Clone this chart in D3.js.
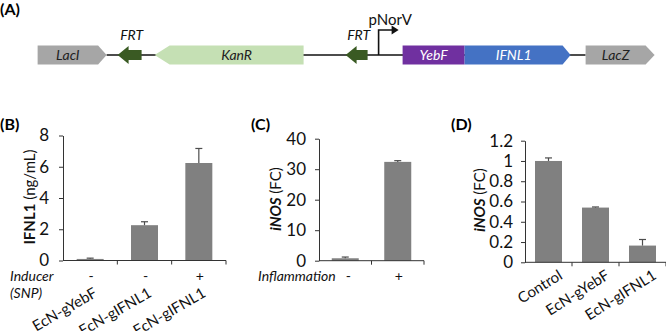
<!DOCTYPE html>
<html>
<head>
<meta charset="utf-8">
<script src="https://cdn.jsdelivr.net/npm/d3@7"></script>
<style>
  body { margin: 0; background: #fff; }
  svg { display: block; font-family: Lato, "Open Sans", sans-serif; }
</style>
</head>
<body>
<div id="chart"></div>
<script>
// ---- data ----
// (A) construct map, positions in map units
const partNames = ["LacI", "FRT", "KanR", "FRT", "YebF", "IFNL1", "LacZ"];
const partStart = [0, 80, 117, 308, 365, 427, 548];
const partEnd   = [69, 104, 266, 330, 427, 533, 617];
const partDir   = [1, -1, -1, -1, 0, 1, 1];
const promoterName = "pNorV";
const promoterPos = 341;
const backbone = [69, 548];

// (B) IFNL1 secretion
const bCats = ["EcN-gYebF", "EcN-gIFNL1", "EcN-gIFNL1"];
const bInducer = ["-", "-", "+"];
const bVals = [0.1, 2.26, 6.24];
const bErrs = [0.05, 0.22, 0.93];
const bTicks = [0, 2, 4, 6, 8];

// (C) iNOS induction
const cInflam = ["-", "+"];
const cVals = [0.8, 32.4];
const cErrs = [0.4, 0.4];
const cTicks = [0, 10, 20, 30, 40];

// (D) iNOS with treatment
const dCats = ["Control", "EcN-gYebF", "EcN-gIFNL1"];
const dVals = [1.0, 0.54, 0.165];
const dErrs = [0.03, 0.006, 0.06];
const dTicks = [0, 0.2, 0.4, 0.6, 0.8, 1.0, 1.2];

// ---- setup ----
const width = 666, height = 331;
const svg = d3.select("#chart").append("svg")
  .attr("width", width).attr("height", height)
  .attr("viewBox", [0, 0, width, height]);

const axisColor = "#333";
const barColor = "#808080";
const errColor = "#4d4d4d";

function panelLabel(txt, x, y) {
  svg.append("text").attr("x", x).attr("y", y)
    .attr("font-size", 16).attr("font-weight", "bold").text(txt);
}

// ---- (A) map ----
panelLabel("(A)", 0, 15);
const mx = d3.scaleLinear().domain([0, 617]).range([37.6, 654.6]);
const cy = 55, bh = 19;

svg.append("line")
  .attr("x1", mx(backbone[0])).attr("x2", mx(backbone[1]))
  .attr("y1", cy).attr("y2", cy)
  .attr("stroke", "#111").attr("stroke-width", 1.6);

const partFill = {LacI: "#a6a6a6", KanR: "#c5e0b4", YebF: "#7030a0", IFNL1: "#4472c4", LacZ: "#a6a6a6", FRT: "#3a5a23"};
const partText = {LacI: "#222", KanR: "#222", YebF: "#fff", IFNL1: "#fff", LacZ: "#222"};
const tipLen = {LacI: 8.5, KanR: 15, IFNL1: 8, LacZ: 9};

partNames.forEach((name, i) => {
  const a = mx(partStart[i]), b = mx(partEnd[i]), dir = partDir[i];
  const t = cy - bh / 2, btm = cy + bh / 2;
  let pts;
  if (name === "FRT") {
    const head = 11, bt = cy - 5, bb = cy + 5, ht = cy - 9, hb = cy + 9;
    pts = [[a, cy], [a + head, ht], [a + head, bt], [b, bt], [b, bb], [a + head, bb], [a + head, hb]];
  } else if (dir === 1) {
    const k = b - tipLen[name];
    pts = [[a, t], [k, t], [b, cy], [k, btm], [a, btm]];
  } else if (dir === -1) {
    const k = a + tipLen[name];
    pts = [[a, cy], [k, t], [b, t], [b, btm], [k, btm]];
  } else {
    pts = [[a, t], [b, t], [b, btm], [a, btm]];
  }
  svg.append("polygon").attr("points", pts.map(p => p.join(",")).join(" "))
    .attr("fill", partFill[name]);

  if (name === "FRT") {
    svg.append("text").attr("x", (a + b) / 2 + 2).attr("y", 40)
      .attr("text-anchor", "middle").attr("font-size", 14).attr("font-style", "italic")
      .attr("fill", "#111").text(name);
  } else {
    let lo = a, hi = b;
    if (dir === 1) hi = b - tipLen[name];
    if (dir === -1) lo = a + tipLen[name];
    svg.append("text").attr("x", (lo + hi) / 2).attr("y", cy + 5)
      .attr("text-anchor", "middle").attr("font-size", 14).attr("font-style", "italic")
      .attr("fill", partText[name]).text(name);
  }
});

// promoter
const px = mx(promoterPos);
svg.append("path")
  .attr("d", `M${px},${cy} V30 H${px + 14}`)
  .attr("fill", "none").attr("stroke", "#111").attr("stroke-width", 1.6);
svg.append("path")
  .attr("d", `M${px + 13},25.5 L${px + 20},30 L${px + 13},34.5 Z`)
  .attr("fill", "#111");
svg.append("text").attr("x", px - 10).attr("y", 25)
  .attr("font-size", 15).attr("fill", "#111").text(promoterName);

// ---- bar panels ----
function barPanel(o) {
  const n = o.vals.length;
  const step = (o.x1 - o.x0) / n;
  const pad = 1 - 27 / step;
  const x = d3.scaleBand().domain(d3.range(n)).range([o.x0, o.x1])
    .paddingInner(pad).paddingOuter(pad / 2);
  const y = d3.scaleLinear().domain([0, o.ticks[o.ticks.length - 1]]).range([o.y0, o.y1]);
  const g = svg.append("g");

  g.append("g").attr("fill", barColor)
    .selectAll("rect").data(o.vals).join("rect")
    .attr("x", (d, i) => x(i)).attr("width", x.bandwidth())
    .attr("y", d => y(d)).attr("height", d => y(0) - y(d));

  const eb = g.append("g").attr("stroke", errColor).attr("stroke-width", 1.2);
  o.vals.forEach((v, i) => {
    const c = x(i) + x.bandwidth() / 2;
    eb.append("line").attr("x1", c).attr("x2", c).attr("y1", y(v)).attr("y2", y(v + o.errs[i]));
    eb.append("line").attr("x1", c - 3.5).attr("x2", c + 3.5)
      .attr("y1", y(v + o.errs[i])).attr("y2", y(v + o.errs[i]));
  });

  // y axis (line + ticks from d3, labels drawn separately)
  g.append("g").attr("transform", `translate(${o.x0},0)`)
    .call(d3.axisLeft(y).tickValues(o.ticks).tickSizeInner(4).tickSizeOuter(0).tickFormat(""))
    .call(a => a.selectAll("path,line").attr("stroke", axisColor));

  g.append("g").selectAll("text").data(o.ticks).join("text")
    .attr("x", o.x0 - 4 - o.tickPad)
    .attr("y", d => y(d))
    .attr("dy", "0.35em")
    .attr("text-anchor", "end")
    .attr("font-size", 17)
    .attr("fill", "#111")
    .text(d => String(+d.toFixed(1)));

  // x axis with boundary ticks
  const xa = g.append("g").attr("stroke", axisColor);
  xa.append("line").attr("x1", o.x0).attr("x2", o.x1).attr("y1", y(0)).attr("y2", y(0));
  d3.range(1, n + 1).forEach(i => {
    const bx = o.x0 + i * x.step();
    xa.append("line").attr("x1", bx).attr("x2", bx).attr("y1", y(0)).attr("y2", y(0) + 4);
  });

  // y title
  const yt = g.append("text")
    .attr("transform", `translate(${o.ylx},${o.yly}) rotate(-90)`)
    .attr("text-anchor", "middle").attr("dominant-baseline", "central")
    .attr("font-size", 15).attr("fill", "#111");
  yt.append("tspan").attr("font-weight", "bold").attr("font-style", o.titleItalic ? "italic" : null)
    .text(o.titleMain);
  yt.append("tspan").text(" " + o.titleUnit);

  return x;
}

// (B)
panelLabel("(B)", 0, 130);
const xb = barPanel({vals: bVals, errs: bErrs, ticks: bTicks, x0: 63, x1: 226, y0: 260.5, y1: 135.5,
  tickPad: 10, ylx: 29, yly: 197, titleMain: "IFNL1", titleUnit: "(ng/mL)", titleItalic: false});
svg.append("text").attr("x", 10).attr("y", 281).attr("font-size", 14).attr("font-style", "italic")
  .attr("fill", "#111").text("Inducer");
svg.append("text").attr("x", 10).attr("y", 298).attr("font-size", 14).attr("font-style", "italic")
  .attr("fill", "#111").text("(SNP)");
bInducer.forEach((s, i) => {
  svg.append("text").attr("x", xb(i) + xb.bandwidth() / 2 + 1).attr("y", 281)
    .attr("text-anchor", "middle").attr("font-size", 14).attr("fill", "#111").text(s);
});
bCats.forEach((s, i) => {
  svg.append("text")
    .attr("transform", `translate(${xb(i) + xb.bandwidth() / 2 + 8},296) rotate(-30)`)
    .attr("text-anchor", "end").attr("font-size", 15).attr("fill", "#111").text(s);
});

// (C)
panelLabel("(C)", 251, 130);
const xc = barPanel({vals: cVals, errs: cErrs, ticks: cTicks, x0: 319, x1: 424, y0: 260.7, y1: 138.7,
  tickPad: 9, ylx: 275, yly: 199, titleMain: "iNOS", titleUnit: "(FC)", titleItalic: true});
svg.append("text").attr("x", 258).attr("y", 281).attr("font-size", 14).attr("font-style", "italic")
  .attr("fill", "#111").text("Inflammation");
cInflam.forEach((s, i) => {
  svg.append("text").attr("x", xc(i) + xc.bandwidth() / 2 + (i === 0 ? 3 : 1)).attr("y", 281)
    .attr("text-anchor", "middle").attr("font-size", 14).attr("fill", "#111").text(s);
});

// (D)
panelLabel("(D)", 451, 130);
const xd = barPanel({vals: dVals, errs: dErrs, ticks: dTicks, x0: 525, x1: 666, y0: 262.3, y1: 140.7,
  tickPad: 8, ylx: 479, yly: 200, titleMain: "iNOS", titleUnit: "(FC)", titleItalic: true});
dCats.forEach((s, i) => {
  svg.append("text")
    .attr("transform", `translate(${xd(i) + xd.bandwidth() / 2 + 15},278) rotate(-32)`)
    .attr("text-anchor", "end").attr("font-size", 15).attr("fill", "#111").text(s);
});
</script>
</body>
</html>
